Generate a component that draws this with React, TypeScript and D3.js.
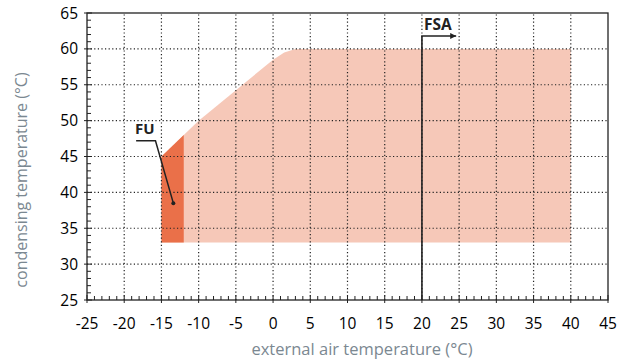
import React, { useEffect, useRef } from 'react';
import * as d3 from 'd3';

// operating envelope (outer border), in °C
const envelopeX = [-15, -15, -12, -10, 0, 1.5, 3, 40, 40];
const envelopeY = [33, 45, 48, 50, 58.5, 59.5, 60, 60, 33];

// FU zone (supplementary heater only)
const fuX = [-15, -15, -12, -12];
const fuY = [33, 45, 48, 33];

const xTicks = [-25, -20, -15, -10, -5, 0, 5, 10, 15, 20, 25, 30, 35, 40, 45];
const yTicks = [25, 30, 35, 40, 45, 50, 55, 60, 65];

const fsaX = 20;
const fsaTop = 61.8;
const fsaArrowEnd = 24.6;

const fuLabel = { x: -18.4, y: 47.2, cornerX: -15.8, dotX: -13.4, dotY: 38.5 };

export default function App() {
  const svgRef = useRef<SVGSVGElement>(null);

  useEffect(() => {
    const width = 624;
    const height = 360;
    const margin = { top: 13, right: 16, bottom: 60, left: 87 };
    const svg = d3.select(svgRef.current);
    svg.selectAll('*').remove();

    const x = d3.scaleLinear().domain([-25, 45]).range([margin.left, width - margin.right]);
    const y = d3.scaleLinear().domain([25, 65]).range([height - margin.bottom, margin.top]);
    const font = "'Open Sans', 'Noto Sans', sans-serif";

    const defs = svg.append('defs');
    defs.append('marker')
      .attr('id', 'arrow')
      .attr('viewBox', '0 0 10 10')
      .attr('refX', 10)
      .attr('refY', 5)
      .attr('markerWidth', 9)
      .attr('markerHeight', 6)
      .attr('markerUnits', 'userSpaceOnUse')
      .attr('orient', 'auto')
      .append('path')
      .attr('d', 'M0,0L10,5L0,10z')
      .attr('fill', '#222');

    const area = d3.line<[number, number]>().x((d) => x(d[0])).y((d) => y(d[1]));

    // envelope
    svg.append('path')
      .attr('d', area(envelopeX.map((v, i) => [v, envelopeY[i]] as [number, number])) + 'Z')
      .attr('fill', '#f6c8b8');

    svg.append('path')
      .attr('d', area(fuX.map((v, i) => [v, fuY[i]] as [number, number])) + 'Z')
      .attr('fill', '#ea7049');

    // dotted grid
    const grid = svg.append('g').attr('stroke', '#222').attr('stroke-width', 1.2).attr('stroke-dasharray', '1.2,2.4');
    xTicks.slice(1, -1).forEach((t) => {
      grid.append('line').attr('x1', x(t)).attr('x2', x(t)).attr('y1', y(25)).attr('y2', y(65));
    });
    yTicks.slice(1, -1).forEach((t) => {
      grid.append('line').attr('x1', x(-25)).attr('x2', x(45)).attr('y1', y(t)).attr('y2', y(t));
    });

    // frame
    svg.append('rect')
      .attr('x', x(-25))
      .attr('y', y(65))
      .attr('width', x(45) - x(-25))
      .attr('height', y(25) - y(65))
      .attr('fill', 'none')
      .attr('stroke', '#222')
      .attr('stroke-width', 1.3);

    // minor ticks (inside)
    const ticks = svg.append('g').attr('stroke', '#222').attr('stroke-width', 1);
    d3.range(-25, 46, 1).forEach((t) => {
      const major = t % 5 === 0;
      ticks.append('line')
        .attr('x1', x(t)).attr('x2', x(t))
        .attr('y1', y(25) + (major ? 3 : 0)).attr('y2', y(25) - (major ? 5 : 4));
    });
    d3.range(25, 66, 1).forEach((t) => {
      const major = t % 5 === 0;
      ticks.append('line')
        .attr('x1', x(-25) - (major ? 3 : 0)).attr('x2', x(-25) + (major ? 5 : 4))
        .attr('y1', y(t)).attr('y2', y(t));
    });

    // tick labels
    svg.append('g')
      .selectAll('text')
      .data(xTicks)
      .join('text')
      .attr('x', (d) => x(d))
      .attr('y', y(25) + 29)
      .attr('text-anchor', 'middle')
      .attr('font-family', font)
      .attr('font-size', 15.5)
      .attr('fill', '#000')
      .text((d) => String(d));

    svg.append('g')
      .selectAll('text')
      .data(yTicks)
      .join('text')
      .attr('x', x(-25) - 9)
      .attr('y', (d) => y(d) + 5.5)
      .attr('text-anchor', 'end')
      .attr('font-family', font)
      .attr('font-size', 15.5)
      .attr('fill', '#000')
      .text((d) => String(d));

    // axis titles
    svg.append('text')
      .attr('x', 362)
      .attr('y', 355)
      .attr('text-anchor', 'middle')
      .attr('font-family', font)
      .attr('font-size', 16.5)
      .attr('fill', '#7b8891')
      .text('external air temperature (°C)');

    svg.append('text')
      .attr('transform', 'translate(27,180) rotate(-90)')
      .attr('text-anchor', 'middle')
      .attr('font-family', font)
      .attr('font-size', 16)
      .attr('fill', '#7b8891')
      .text('condensing temperature (°C)');

    // FSA marker
    svg.append('path')
      .attr('d', `M${x(fsaX)},${y(25)}V${y(fsaTop)}H${x(fsaArrowEnd)}`)
      .attr('fill', 'none')
      .attr('stroke', '#222')
      .attr('stroke-width', 1.6)
      .attr('marker-end', 'url(#arrow)');
    svg.append('text')
      .attr('x', x(fsaX) + 2)
      .attr('y', 29.5)
      .attr('font-family', font)
      .attr('font-size', 15.5)
      .attr('font-weight', 'bold')
      .attr('fill', '#222')
      .text('FSA');

    // FU annotation
    svg.append('path')
      .attr('d', `M${x(fuLabel.x)},${y(fuLabel.y)}H${x(fuLabel.cornerX)}L${x(fuLabel.dotX)},${y(fuLabel.dotY)}`)
      .attr('fill', 'none')
      .attr('stroke', '#222')
      .attr('stroke-width', 1.5);
    svg.append('circle')
      .attr('cx', x(fuLabel.dotX))
      .attr('cy', y(fuLabel.dotY))
      .attr('r', 2)
      .attr('fill', '#222');
    svg.append('text')
      .attr('x', x(fuLabel.x) - 1)
      .attr('y', y(fuLabel.y) - 7)
      .attr('font-family', font)
      .attr('font-size', 15)
      .attr('font-weight', 'bold')
      .attr('fill', '#222')
      .text('FU');
  }, []);

  return (
    <svg
      ref={svgRef}
      width={624}
      height={360}
      style={{ position: 'absolute', left: 0, top: 0, background: '#fff' }}
    />
  );
}
